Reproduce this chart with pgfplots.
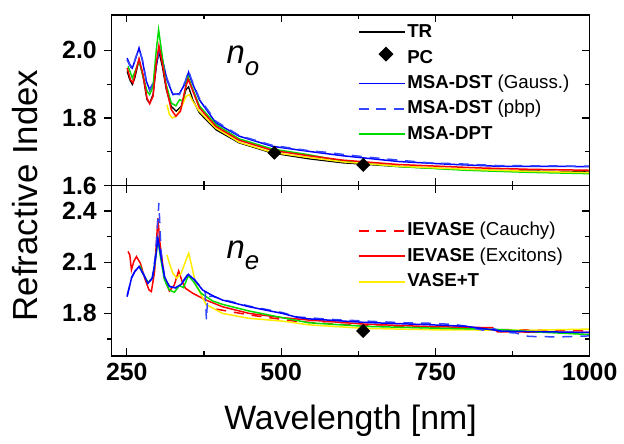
\documentclass[border=0pt]{standalone}
\usepackage{fontspec}
\setmainfont{Liberation Sans}
\usepackage{pgfplots}
\pgfplotsset{compat=1.18}

\definecolor{cblue}{RGB}{0,0,255}
\definecolor{cblued}{RGB}{50,70,255}
\definecolor{cgreen}{RGB}{0,220,0}
\definecolor{cred}{RGB}{255,0,0}
\definecolor{cyellow}{RGB}{255,236,0}
\tikzset{pbpdash/.style={dash pattern=on 5pt off 4pt}}

\pgfplotsset{
  panel/.style={
    scale only axis, width=240.5pt, height=85.75pt,
    xmin=225, xmax=1000,
    xtick={250,500,750,1000}, minor xtick={375,625,875},
    xtick align=inside, xtick pos=both,
    ytick pos=left, ytick align=outside,
    major tick length=3.8pt, minor tick length=2.3pt,
    axis line style={line width=0.7pt},
    every tick/.style={line width=0.6pt, black},
    tick label style={font=\fontsize{12.5}{14}\selectfont\bfseries},
    % solid legend lines as thin filled bars
    legend image code/.code={\fill[#1, draw=none] (0pt,-0.45pt) rectangle (23.5pt,0.45pt);},
    legend style={draw=none, fill=none, inner sep=0pt,
      font=\fontsize{9.4}{11}\selectfont, cells={anchor=west},
      nodes={inner sep=1pt, text height=7pt, text depth=2pt}, row sep=1.75pt,
      /tikz/every odd column/.append style={column sep=-0.5pt}},
  },
  dashleg/.style={legend image code/.code={\draw[##1, line width=0.95pt] (0pt,0pt) -- (23.5pt,0pt);}},
  rticks/.style={
    scale only axis, width=240.5pt, height=85.75pt,
    xmin=225, xmax=1000, hide x axis, axis y line*=right,
    ytick pos=right, ytick align=inside, yticklabels={},
    major tick length=3.8pt, minor tick length=2.3pt,
    axis line style={line width=0.7pt},
    every tick/.style={line width=0.6pt, black},
  },
  dat/.style={line width=0.75pt, forget plot},
}

\begin{document}
\begin{tikzpicture}

% ---- n_o panel ----
\begin{axis}[panel, name=top,
  ymin=1.6, ymax=2.105,
  ytick={1.6,1.8,2.0}, minor ytick={1.7,1.9}, yticklabels={1.6,1.8,2.0},
  xticklabels={},
  legend style={at={(rel axis cs:0.514,0.965)}, anchor=north west}]

\addplot[black, line width=0.65pt] coordinates {
(250.5,1.938)(254.8,1.913)(259,1.899)(262.9,1.918)(269.8,1.972)(276.3,1.923)
(282.7,1.854)(287,1.844)(292.5,1.869)(297.8,1.953)(302,1.997)(307.5,1.953)
(314,1.884)(322,1.834)(330,1.820)(338,1.834)(346,1.884)(350,1.892)(357,1.854)
(367.5,1.815)(394.4,1.765)(432,1.726)(485.6,1.696)(544.7,1.679)(600,1.667)
(689.6,1.656)(797,1.647)(900,1.643)(1000,1.640)};
\addlegendentry{\textbf{TR}}

\addlegendimage{legend image code/.code={\node[fill=black, rotate=45, inner sep=0pt, text height=0pt, text depth=0pt, minimum size=5.3pt] at (11.75pt,0pt) {};}}
\addlegendentry{\textbf{PC}}

\addplot[cblue, line width=0.75pt] coordinates {
(250.5,1.977)(254.8,1.958)(259,1.948)(264.5,1.977)(269.8,2.007)(275,1.972)
(281.7,1.908)(287,1.884)(293.5,1.904)(298.8,1.967)(303,2.004)(308.5,1.967)
(315,1.913)(324.6,1.869)(335.3,1.872)(345,1.904)(350,1.935)(354,1.913)
(367.5,1.854)(394.4,1.785)(432,1.746)(485.6,1.716)(544.7,1.701)(600,1.688)
(690,1.671)(770,1.663)(850,1.657)(1000,1.656)};
\addlegendentry{\textbf{MSA-DST} (Gauss.)}

\addplot[dashleg, cblued, line width=0.75pt, pbpdash] coordinates {
(250.5,1.972)(254.8,1.955)(259,1.944)(264.5,1.980)(269.8,2.003)(275,1.975)
(281.7,1.910)(287,1.881)(293.5,1.908)(298.8,1.970)(303,2.000)(308.5,1.962)
(315,1.917)(324.6,1.872)(335.3,1.869)(345,1.910)(350,1.940)(354,1.918)
(367.5,1.858)(394.4,1.790)(432,1.748)(485.6,1.719)(544.7,1.703)(575,1.698)
(600,1.692)(640,1.684)(690,1.675)(740,1.667)(790,1.664)(850,1.659)(920,1.658)
(1000,1.657)};
\addlegendentry{\textbf{MSA-DST} (pbp)}

\addplot[cgreen, line width=0.75pt] coordinates {
(252,1.953)(259,1.918)(264.5,1.943)(269.8,1.970)(276.3,1.923)(282.7,1.879)
(287,1.869)(292.5,1.893)(297.8,2.002)(301.5,2.061)(306,2.002)(313,1.904)
(322,1.844)(329.5,1.836)(335.5,1.854)(341.5,1.849)(346,1.899)(349.5,1.921)
(356,1.889)(367.5,1.836)(394.4,1.780)(432,1.738)(485.6,1.708)(544.7,1.691)
(600,1.672)(690,1.656)(800,1.645)(900,1.639)(1000,1.635)};
\addlegendentry{\textbf{MSA-DPT}}

\addplot[dat, cyellow] coordinates {
(315,1.839)(319,1.810)(323.6,1.800)(330,1.805)(338,1.830)(346,1.864)(351.4,1.869)
(357,1.849)(367.5,1.820)(394.4,1.770)(432,1.728)(485.6,1.698)(544.7,1.683)
(600,1.670)(690,1.657)(800,1.648)(900,1.642)(1000,1.638)};

\addplot[dat, cred] coordinates {
(250.5,1.948)(256,1.913)(260,1.904)(264.5,1.938)(269.8,1.975)(276.3,1.928)
(282.7,1.859)(287,1.842)(292.5,1.864)(297.8,1.963)(302,2.014)(307.5,1.963)
(314,1.889)(322,1.825)(329.5,1.805)(337,1.820)(345,1.889)(349.5,1.915)
(356,1.884)(367.5,1.830)(394.4,1.775)(432,1.734)(485.6,1.704)(544.7,1.688)
(600,1.675)(690,1.662)(820,1.652)(900,1.648)(1000,1.645)};

\addplot[forget plot, only marks, mark=square*, mark size=2.3pt,
  mark options={black, fill=black, rotate=45}] coordinates {(489,1.697)(633,1.661)};

\node[anchor=base west, inner sep=0pt, font=\fontsize{16.5}{18}\selectfont\itshape]
  at (axis cs:411,1.961) {n\raisebox{-6.2pt}{\fontsize{13}{14}\selectfont o}};
\end{axis}
\begin{axis}[rticks, ymin=1.6, ymax=2.105, ytick={1.6,1.8,2.0}, minor ytick={1.7,1.9}]
\end{axis}

% ---- n_e panel ----
\begin{axis}[panel, name=bot, at={(top.south west)}, anchor=north west,
  ymin=1.55, ymax=2.55,
  ytick={1.8,2.1,2.4}, minor ytick={1.65,1.95,2.25}, yticklabels={1.8,2.1,2.4},
  xticklabels={250,500,750,1000},
  legend style={at={(rel axis cs:0.514,0.80)}, anchor=north west}]

\addplot[dashleg, cred, line width=0.75pt, pbpdash] coordinates {
(395,1.825)(450,1.790)(527,1.752)(636,1.728)(743,1.715)(850,1.705)(1000,1.698)};
\addlegendentry{\textbf{IEVASE} (Cauchy)}

\addplot[cred, line width=0.75pt] coordinates {
(252,2.163)(254.8,2.143)(257.5,2.055)(261.3,2.104)(265.6,2.133)(272,2.094)
(279,2.006)(286,1.937)(289.8,1.928)(295,2.045)(300.4,2.359)(304,2.202)
(311,2.006)(319,1.931)(327,1.967)(334,2.049)(339.7,1.986)(345,1.947)
(356.8,1.918)(378.3,1.878)(405,1.839)(448,1.800)(501.7,1.775)(544.7,1.761)
(636,1.737)(743.3,1.722)(842.6,1.716)(850.6,1.692)(1000,1.688)};
\addlegendentry{\textbf{IEVASE} (Excitons)}

\addplot[cyellow, line width=0.75pt] coordinates {
(315,2.143)(319,2.094)(324.6,2.035)(331,2.006)(338,2.035)(346,2.114)(350.3,2.153)
(354.7,2.084)(362,1.967)(378.3,1.853)(405,1.800)(448,1.771)(501.7,1.755)
(544.7,1.733)(636,1.712)(743,1.704)(900,1.701)(1000,1.708)};
\addlegendentry{\textbf{VASE+T}}

\addplot[dat, cgreen] coordinates {
(271,2.081)(276,2.035)(284.3,1.982)(291.3,2.006)(296,2.104)(300.4,2.231)
(304.8,2.124)(311,1.996)(319,1.937)(327,1.924)(335.3,1.963)(341.8,1.951)
(349.8,2.022)(358,1.986)(370.3,1.918)(389,1.873)(405,1.853)(448,1.814)
(501.7,1.775)(544.7,1.745)(636,1.724)(743,1.714)(850,1.706)(920,1.690)(1000,1.676)};

\addplot[dat, cblued, pbpdash] coordinates {
(250.5,1.905)(253.7,1.950)(257.5,2.010)(263,2.048)(269.8,2.070)(277.4,2.030)
(284.3,1.972)(291.3,2.010)(296.7,2.150)(302,2.447)(305.5,2.160)(311,2.020)
(319,1.960)(329,1.948)(338,1.974)(349.8,2.035)(359.5,2.000)(372.9,1.940)
(377,1.925)(379,1.761)(381,1.900)(389,1.900)(405,1.882)(448,1.843)(501.7,1.805)
(527,1.779)(580,1.765)(636,1.755)(700,1.745)(743,1.742)(780,1.735)(800,1.725)
(816,1.710)(830,1.700)(845,1.710)(858,1.690)(880,1.685)(901,1.665)(950,1.662)
(1000,1.668)};

\addplot[dat, cblue] coordinates {
(250.5,1.898)(253.7,1.947)(257.5,2.006)(263,2.045)(269.8,2.075)(277.4,2.025)
(284.3,1.976)(291.3,2.006)(296.7,2.124)(300.4,2.241)(304.8,2.143)(311,2.016)
(319,1.957)(329,1.951)(338,1.970)(349.8,2.029)(359.5,1.996)(372.9,1.937)
(389,1.904)(405,1.878)(448,1.839)(501.7,1.800)(527,1.776)(544.7,1.768)
(636,1.747)(743,1.733)(800,1.724)(858,1.696)(1000,1.688)};

\addplot[forget plot, only marks, mark=square*, mark size=2.3pt,
  mark options={black, fill=black, rotate=45}] coordinates {(633,1.697)};

\node[anchor=base west, inner sep=0pt, font=\fontsize{16.5}{18}\selectfont\itshape]
  at (axis cs:411,2.124) {n\raisebox{-5.5pt}{\fontsize{13}{14}\selectfont e}};
\end{axis}
\begin{axis}[rticks, at={(top.south west)}, anchor=north west,
  ymin=1.55, ymax=2.55, ytick={1.8,2.1,2.4}, minor ytick={1.65,1.95,2.25}]
\end{axis}

\node[rotate=90, font=\fontsize{17.5}{20}\selectfont]
  at ([xshift=-43.25pt, yshift=80.75pt]bot.south west) {Refractive Index};
\node[anchor=base, font=\fontsize{17}{20}\selectfont]
  at ([yshift=-37pt]bot.south) {Wavelength [nm]};

\path ([xshift=-56pt, yshift=7.5pt]top.north west) rectangle ([xshift=15.5pt, yshift=-41.5pt]bot.south east);
\end{tikzpicture}
\end{document}
